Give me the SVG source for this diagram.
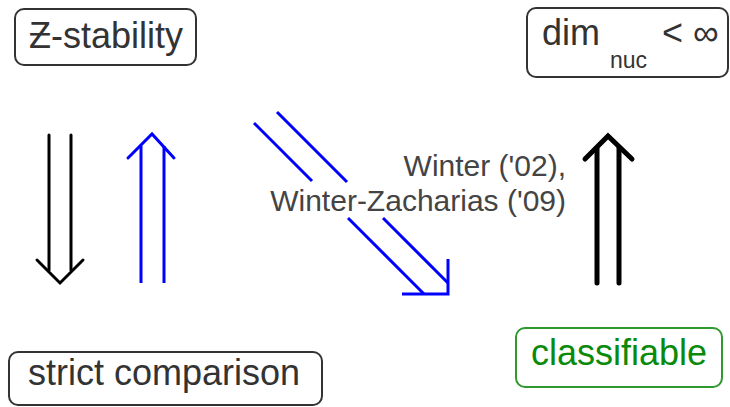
<svg xmlns="http://www.w3.org/2000/svg" width="730" height="407" viewBox="0 0 730 407">
<style>
.box{fill:#fff;stroke:#333;stroke-width:2}
.gbox{fill:#fff;stroke:#2e9a2e;stroke-width:2}
.t{font-family:"Liberation Sans",Arial,sans-serif;font-size:36px;fill:#333}
.g{fill:#0a8a0a}
.lbl{font-family:"Liberation Sans",Arial,sans-serif;font-size:30px;fill:#444;text-anchor:end}
.k{stroke:#000;stroke-width:3;fill:none;stroke-linecap:round;stroke-linejoin:miter}
.kb{stroke:#000;stroke-width:5;fill:none;stroke-linecap:round}
.b{stroke:#0000ff;stroke-width:3;fill:none;stroke-linecap:butt}
</style>
<rect width="730" height="407" fill="#fff"/>
<g id="connectors">
  <g id="e-z-strict">
    <line class="k" x1="49" y1="135" x2="49" y2="270"/>
    <line class="k" x1="71" y1="135" x2="71" y2="270"/>
    <polyline class="k" points="37,260 60,283 83,260"/>
  </g>
  <g id="e-strict-z">
    <line class="b" x1="141" y1="283" x2="141" y2="146"/>
    <line class="b" x1="164" y1="283" x2="164" y2="146"/>
    <polyline class="b" points="128,158 152,134 174,158" style="stroke-linecap:round"/>
  </g>
  <g id="e-z-class">
    <line class="b" x1="254" y1="123" x2="312" y2="181"/>
    <line class="b" x1="348" y1="218" x2="424" y2="294"/>
    <line class="b" x1="277" y1="112" x2="347" y2="182"/>
    <line class="b" x1="383" y1="218" x2="448" y2="283"/>
    <polyline class="b" points="402,294 448,294 448,259"/>
    <text class="lbl" x="566" y="176">Winter ('02),</text>
    <text class="lbl" x="566" y="211">Winter-Zacharias ('09)</text>
  </g>
  <g id="e-class-dim">
    <line class="kb" x1="597" y1="283" x2="597" y2="148"/>
    <line class="kb" x1="619" y1="283" x2="619" y2="148"/>
    <polyline class="kb" points="585,159 608,136 632,159"/>
  </g>
</g>
<g id="n-zstab">
  <rect class="box" x="15" y="9" width="181" height="56" rx="9"/>
  <text class="t" x="29" y="48">Ƶ-stability</text>
</g>
<g id="n-dim">
  <rect class="box" x="527" y="8" width="201" height="69" rx="9"/>
  <text class="t" x="542" y="45">dim</text>
  <text class="t" x="610" y="68" style="font-size:23px">nuc</text>
  <text class="t" x="662" y="45">&lt; ∞</text>
</g>
<g id="n-strict">
  <rect class="box" x="9" y="352" width="313" height="53" rx="9"/>
  <text class="t" x="28" y="385">strict comparison</text>
</g>
<g id="n-class">
  <rect class="gbox" x="516" y="328" width="206" height="59" rx="9"/>
  <text class="t g" x="531" y="365">classifiable</text>
</g>
</svg>
